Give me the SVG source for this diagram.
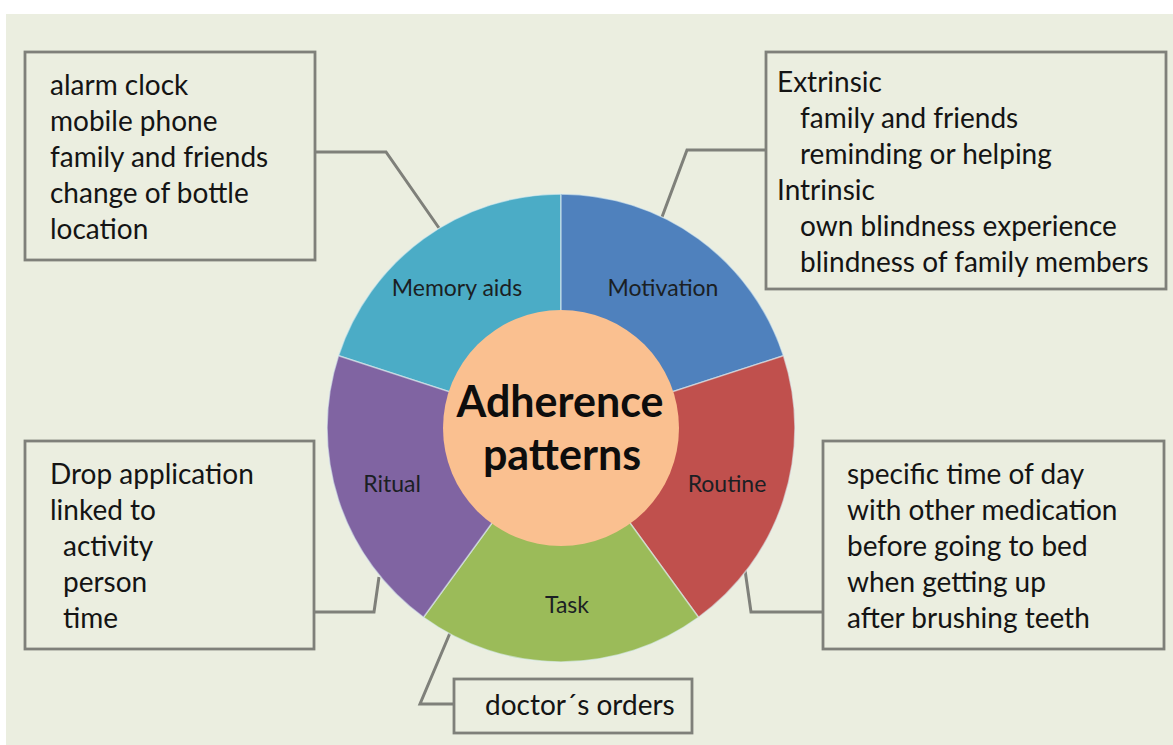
<svg xmlns="http://www.w3.org/2000/svg" width="1173" height="745" viewBox="0 0 1173 745">
  <style>
    .box { fill: #ebeee0; stroke: #7f807a; stroke-width: 2.8; }
    .txt { font-family: Lato, "Open Sans", "Liberation Sans", sans-serif; font-size: 28px; fill: #141414; }
    .seg { stroke: #dfeef0; stroke-opacity: 0.6; stroke-width: 1.5; }
    .lbl { font-family: Lato, "Open Sans", "Liberation Sans", sans-serif; font-size: 23px; text-anchor: middle; fill: #1b1f24; }
    .conn { fill: none; stroke: #7f807a; stroke-width: 3; stroke-linejoin: miter; }
    .title { font-family: Lato, "Open Sans", "Liberation Sans", sans-serif; font-size: 43px; font-weight: bold; text-anchor: middle; fill: #0d0d0d; }
  </style>
  <rect width="1173" height="745" fill="#ffffff"/>
  <rect x="6" y="14" width="1167" height="731" fill="#ebeee0"/>

  <!-- connectors between the boxes and the ring -->
  <g id="connectors">
    <path class="conn" d="M315,152 H386 L439,228"/>
    <path class="conn" d="M766,150 H687 L662,217"/>
    <path class="conn" d="M314,612 H374 L379,577"/>
    <path class="conn" d="M823,612 H751 L745,570"/>
    <path class="conn" d="M454,704 H420 L450,633"/>
  </g>

  <!-- ring of five sectors, centre (561,428), r=234 -->
  <g id="ring">
    <g id="memory-aids">
      <path class="seg" fill="#4bacc6" d="M561,428 L338.5,355.7 A234,234 0 0 1 561,194 Z"/>
      <text class="lbl" x="457" y="296">Memory aids</text>
    </g>
    <g id="motivation">
      <path class="seg" fill="#4f81bd" d="M561,428 L561,194 A234,234 0 0 1 783.5,355.7 Z"/>
      <text class="lbl" x="663" y="296">Motivation</text>
    </g>
    <g id="routine">
      <path class="seg" fill="#c0504d" d="M561,428 L783.5,355.7 A234,234 0 0 1 698.5,617.3 Z"/>
      <text class="lbl" x="727" y="492">Routine</text>
    </g>
    <g id="task">
      <path class="seg" fill="#9bbb59" d="M561,428 L698.5,617.3 A234,234 0 0 1 423.5,617.3 Z"/>
      <text class="lbl" x="567" y="613">Task</text>
    </g>
    <g id="ritual">
      <path class="seg" fill="#8064a2" d="M561,428 L423.5,617.3 A234,234 0 0 1 338.5,355.7 Z"/>
      <text class="lbl" x="392" y="492">Ritual</text>
    </g>
  </g>

  <g id="centre">
    <circle cx="561" cy="428" r="118" fill="#fac090"/>
    <text class="title" x="560" y="417">Adherence</text>
    <text class="title" x="562" y="470">patterns</text>
  </g>

  <g id="box-memory-aids">
    <rect class="box" x="25" y="52" width="290" height="208"/>
    <text class="txt" x="50" y="95">alarm clock</text>
    <text class="txt" x="50" y="131">mobile phone</text>
    <text class="txt" x="50" y="167">family and friends</text>
    <text class="txt" x="50" y="203">change of bottle</text>
    <text class="txt" x="50" y="239">location</text>
  </g>

  <g id="box-motivation">
    <rect class="box" x="766" y="52" width="400" height="237"/>
    <text class="txt" x="777" y="92">Extrinsic</text>
    <text class="txt" x="800" y="128">family and friends</text>
    <text class="txt" x="800" y="164">reminding or helping</text>
    <text class="txt" x="777" y="200">Intrinsic</text>
    <text class="txt" x="800" y="236">own blindness experience</text>
    <text class="txt" x="800" y="272">blindness of family members</text>
  </g>

  <g id="box-ritual">
    <rect class="box" x="25" y="441" width="289" height="208"/>
    <text class="txt" x="50" y="484">Drop application</text>
    <text class="txt" x="50" y="520">linked to</text>
    <text class="txt" x="63" y="556">activity</text>
    <text class="txt" x="63" y="592">person</text>
    <text class="txt" x="63" y="628">time</text>
  </g>

  <g id="box-routine">
    <rect class="box" x="823" y="441" width="341" height="208"/>
    <text class="txt" x="847" y="484">specific time of day</text>
    <text class="txt" x="847" y="520">with other medication</text>
    <text class="txt" x="847" y="556">before going to bed</text>
    <text class="txt" x="847" y="592">when getting up</text>
    <text class="txt" x="847" y="628">after brushing teeth</text>
  </g>

  <g id="box-task">
    <rect class="box" x="454" y="679" width="238" height="54"/>
    <text class="txt" x="485" y="715">doctor´s orders</text>
  </g>
</svg>
